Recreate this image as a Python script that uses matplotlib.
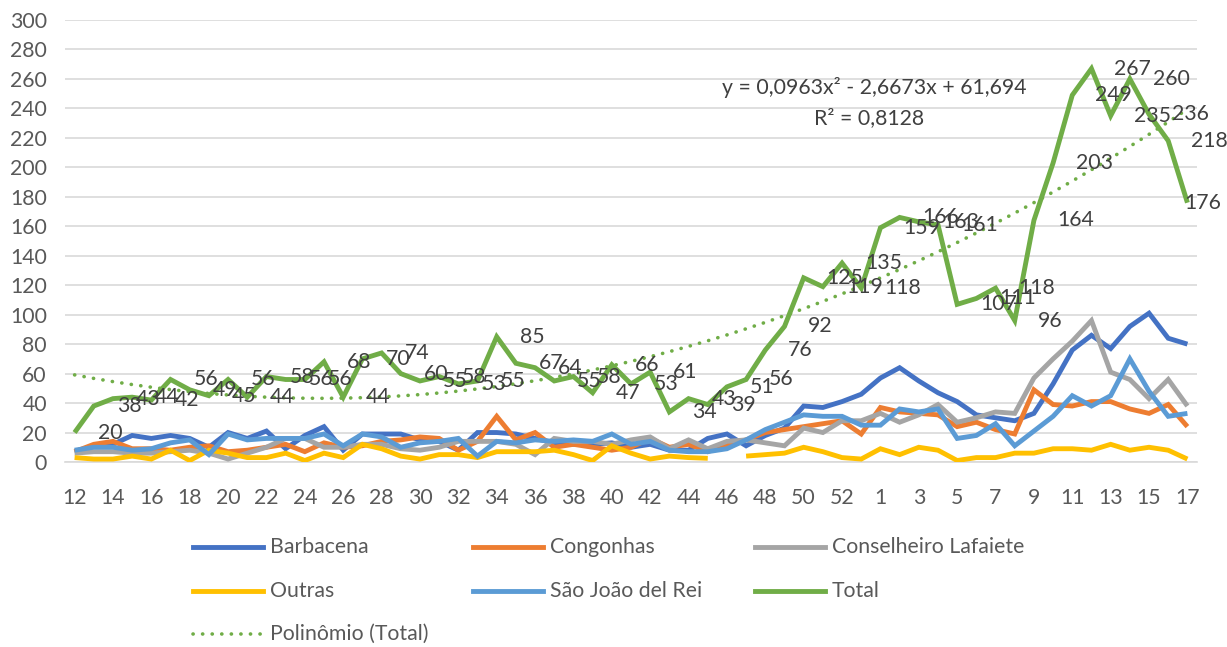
import numpy as np
import matplotlib
matplotlib.use("Agg")
import matplotlib.pyplot as plt
from matplotlib.lines import Line2D

plt.rcParams['font.family'] = ['Lato', 'DejaVu Sans']

# semanas epidemiologicas: 12..53 (2020) e 1..17 (2021)
weeks = list(range(12, 54)) + list(range(1, 18))

barbacena = [7, 11, 12, 18, 16, 18, 16, 10, 20, 16, 21, 9, 18, 24, 8, 19, 19, 19, 15, 14,
             8, 20, 20, 19, 16, 13, 12, 12, 13, 10, 12, 8, 8, 16, 19, 11, 18, 23, 38, 37,
             41, 46, 57, 64, 55, 47, 41, 32, 30, 28, 33, 53, 76, 86, 77, 92, 101, 84, 80]
congonhas = [7, 12, 14, 9, 9, 8, 10, 11, 7, 8, 10, 12, 7, 13, 10, 11, 14, 15, 17, 16,
             8, 14, 31, 15, 20, 10, 12, 10, 8, 10, 16, 10, 12, 7, 12, 15, 20, 22, 24, 26,
             28, 19, 37, 34, 33, 32, 24, 27, 22, 19, 49, 39, 38, 41, 41, 36, 33, 39, 24]
lafaiete = [6, 7, 7, 6, 6, 7, 8, 6, 2, 6, 10, 16, 16, 10, 10, 12, 12, 9, 8, 10,
            14, 14, 14, 12, 5, 16, 14, 14, 12, 15, 17, 9, 15, 9, 14, 15, 13, 11, 23, 20,
            28, 28, 33, 27, 32, 39, 27, 30, 34, 33, 57, 70, 82, 96, 61, 56, 43, 56, 38]
outras = [3, 2, 2, 4, 2, 8, 1, 8, 6, 3, 3, 6, 1, 6, 3, 12, 9, 4, 2, 5,
          5, 3, 7, 7, 7, 8, 5, 1, 11, 6, 2, 4, 3, 2.5, np.nan, 4, 5, 6, 10, 7,
          3, 2, 9, 5, 10, 8, 1, 3, 3, 6, 6, 9, 9, 8, 12, 8, 10, 8, 2]
sao_joao = [8, 10, 10, 8, 9, 13, 15, 5, 19, 15, 16, 16, 16, 19, 11, 19, 17, 10, 13, 14,
            16, 4, 14, 13, 15, 14, 15, 14, 19, 12, 14, 8, 7, 7, 9, 15, 22, 27, 32, 31,
            31, 25, 25, 36, 34, 36, 16, 18, 26, 11, 21, 31, 45, 38, 45, 70, 48, 31, 33]
total = [20, 38, 43, 44, 42, 56, 49, 45, 56, 44, 58, 56, 56, 68, 44, 70, 74, 60, 55, 58,
         53, 55, 85, 67, 64, 55, 58, 47, 66, 53, 61, 34, 43, 39, 51, 56, 76, 92, 125, 119,
         135, 118, 159, 166, 163, 161, 107, 111, 118, 96, 164, 203, 249, 267, 235, 260, 236, 218, 176]

series = [
    ("Barbacena", barbacena, "#4472C4"),
    ("Congonhas", congonhas, "#ED7D31"),
    ("Conselheiro Lafaiete", lafaiete, "#A5A5A5"),
    ("Outras", outras, "#FFC000"),
    ("São João del Rei", sao_joao, "#5B9BD5"),
    ("Total", total, "#70AD47"),
]

FS = 15.3
W, H = 1227, 647
fig = plt.figure(figsize=(W / 100, H / 100), dpi=100)
ax = fig.add_axes([65 / W, 1 - 462 / H, (1197 - 65) / W, (462 - 20) / H])

x = np.arange(len(weeks))
for name, vals, col in series:
    ax.plot(x, vals, color=col, lw=3.5, solid_joinstyle='miter', solid_capstyle='butt', zorder=3)

# linha de tendencia polinomial (ordem 2), como no Excel (x = 1..n)
coef = np.polyfit(x + 1, total, 2)
trend = np.polyval(coef, x + 1)
ax.plot(x, trend, color="#70AD47", lw=2.6, linestyle=(0, (0.05, 2.6)),
        dash_capstyle='round', zorder=4)

# rotulos de dados da serie Total (a direita do ponto)
for i, v in enumerate(total):
    dx = -3 if i == len(total) - 1 else 23
    ax.annotate(str(v), (x[i], v), xytext=(dx, 0), textcoords='offset pixels',
                ha='left', va='center', fontsize=FS, color='#404040', zorder=5)

fig.text(874 / W, 1 - 88 / H, "y = 0,0963x² - 2,6673x + 61,694", ha='center', va='center',
         fontsize=FS, color='#404040')
fig.text(869 / W, 1 - 118 / H, "R² = 0,8128", ha='center', va='center',
         fontsize=FS, color='#404040')

ax.set_xlim(-0.5, len(weeks) - 0.5)
ax.set_ylim(0, 300)
ax.set_yticks(range(0, 301, 20))
ax.set_xticks(x[::2])
ax.set_xticklabels([str(w) for w in weeks[::2]])
ax.tick_params(axis='both', length=0, labelsize=FS, labelcolor='#595959')
ax.tick_params(axis='x', pad=19)
ax.tick_params(axis='y', pad=13)
ax.grid(axis='y', color='#D9D9D9', lw=1.2)
ax.set_axisbelow(True)
for s in ['top', 'right', 'left']:
    ax.spines[s].set_visible(False)
ax.spines['bottom'].set_color('#D9D9D9')
ax.spines['bottom'].set_linewidth(1.2)

# legenda montada a mao (3 colunas, como no Excel)
leg_items = series + [("Polinômio (Total)", None, "#70AD47")]
col_x = [193, 473, 755]
row_y = [547, 591, 634]
for k, (name, vals, col) in enumerate(leg_items):
    cx = col_x[k % 3]
    ry = row_y[k // 3]
    if vals is None:
        ln = Line2D([cx / W, (cx + 70) / W], [1 - ry / H, 1 - ry / H], color=col, lw=2.6,
                    linestyle=(0, (0.05, 2.6)), dash_capstyle='round', transform=fig.transFigure)
    else:
        ln = Line2D([cx / W, (cx + 70) / W], [1 - ry / H, 1 - ry / H], color=col, lw=3.5,
                    transform=fig.transFigure)
    fig.add_artist(ln)
    fig.text((cx + 77) / W, 1 - ry / H, name, ha='left', va='center', fontsize=FS,
             color='#595959')

fig.savefig("out.png", dpi=100)
